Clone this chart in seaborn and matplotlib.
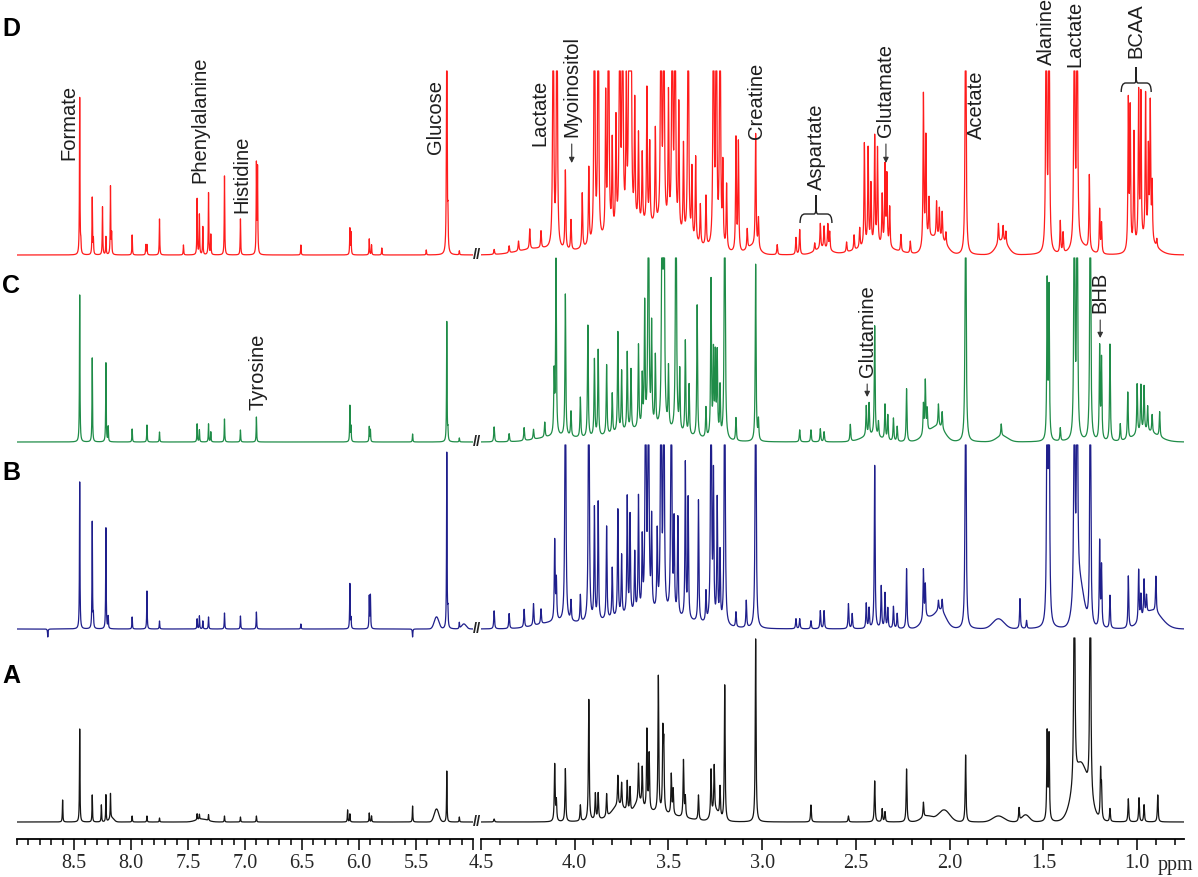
import numpy as np
import matplotlib
matplotlib.use('Agg')
import matplotlib.pyplot as plt
import seaborn as sns
from matplotlib.path import Path
from matplotlib.patches import PathPatch

# 1H NMR spectra, four samples stacked (A bottom ... D top)
# peaks: (ppm, height); broad: (ppm, height, width)
D_PEAKS = [
    (8.45, 157), (8.44, 10), (8.34, 57), (8.33, 15), (8.25, 48), (8.22, 18),
    (8.18, 68), (8.17, 20), (7.99, 20), (7.87, 10), (7.86, 10), (7.75, 36),
    (7.54, 10), (7.42, 56), (7.40, 40), (7.37, 28), (7.32, 62), (7.30, 20),
    (7.18, 79), (7.04, 36), (6.90, 89), (6.89, 85), (6.51, 10), (6.08, 26),
    (6.07, 22), (5.91, 16), (5.89, 10), (5.80, 7), (5.41, 5), (5.23, 400),
    (5.22, 30), (5.12, 4),
    (4.43, 5), (4.35, 7), (4.30, 10), (4.24, 20), (4.18, 17), (4.115, 400),
    (4.095, 400), (4.05, 79), (4.02, 30), (3.96, 55), (3.925, 77), (3.895, 400),
    (3.875, 400), (3.835, 138), (3.82, 400), (3.80, 90), (3.78, 110),
    (3.76, 400), (3.745, 400), (3.725, 150), (3.71, 400), (3.70, 400),
    (3.68, 120), (3.66, 89), (3.64, 70), (3.615, 135), (3.60, 80), (3.57, 95),
    (3.54, 400), (3.525, 400), (3.50, 130), (3.48, 400), (3.465, 400),
    (3.445, 126), (3.42, 90), (3.395, 400), (3.375, 70), (3.355, 85),
    (3.33, 40), (3.30, 50), (3.26, 400), (3.245, 400), (3.225, 400),
    (3.21, 80), (3.19, 65), (3.14, 113), (3.127, 109), (3.08, 20),
    (3.035, 113), (3.02, 30), (2.92, 10), (2.82, 17), (2.80, 25), (2.72, 8),
    (2.69, 25), (2.67, 22), (2.65, 25), (2.64, 18), (2.55, 10), (2.51, 15),
    (2.48, 20), (2.455, 103), (2.435, 97), (2.42, 60), (2.40, 108),
    (2.385, 96), (2.36, 50), (2.345, 79), (2.335, 70), (2.32, 40), (2.26, 17),
    (2.21, 12), (2.14, 152), (2.127, 105), (2.11, 40), (2.07, 36),
    (2.055, 30), (2.04, 28), (2.02, 12), (1.915, 400), (1.74, 20),
    (1.715, 15), (1.70, 12), (1.485, 400), (1.47, 400), (1.41, 32),
    (1.395, 20), (1.335, 400), (1.32, 400), (1.255, 75), (1.20, 44),
    (1.19, 30), (1.047, 148), (1.037, 138), (1.017, 114), (0.992, 150),
    (0.98, 146), (0.955, 145), (0.94, 88), (0.93, 135), (0.92, 56),
    (0.895, 8),
]
D_BROAD = [
    (3.62, 28, 0.18), (4.20, 6, 0.10), (2.40, 8, 0.10), (2.10, 15, 0.03),
    (2.04, 12, 0.03), (1.72, 14, 0.03), (1.30, 8, 0.04), (0.95, 12, 0.05),
    (2.68, 6, 0.04), (3.05, 8, 0.03),
]

C_PEAKS = [
    (8.45, 147), (8.34, 84), (8.22, 79), (8.20, 15), (7.99, 13), (7.86, 17),
    (7.75, 10), (7.42, 18), (7.40, 12), (7.32, 18), (7.30, 10), (7.18, 23),
    (7.04, 12), (6.90, 25), (6.08, 36), (6.07, 15), (5.91, 15), (5.90, 12),
    (5.53, 8), (5.23, 120), (5.22, 10), (5.12, 4),
    (4.43, 15), (4.35, 8), (4.27, 13), (4.22, 10), (4.16, 15), (4.11, 60),
    (4.10, 177), (4.05, 142), (4.02, 25), (3.97, 40), (3.93, 112),
    (3.895, 77), (3.875, 86), (3.83, 70), (3.80, 40), (3.77, 100),
    (3.75, 60), (3.72, 78), (3.70, 60), (3.66, 83), (3.64, 50), (3.627, 122),
    (3.607, 400), (3.59, 100), (3.57, 70), (3.534, 400), (3.524, 400),
    (3.50, 60), (3.46, 400), (3.44, 60), (3.41, 93), (3.39, 50),
    (3.347, 132), (3.30, 30), (3.273, 157), (3.26, 83), (3.25, 80),
    (3.24, 83), (3.225, 50), (3.20, 400), (3.14, 23), (3.035, 177),
    (3.02, 20), (2.80, 12), (2.74, 12), (2.69, 13), (2.67, 10), (2.53, 17),
    (2.445, 30), (2.43, 32), (2.40, 110), (2.38, 15), (2.345, 35),
    (2.33, 25), (2.30, 23), (2.28, 15), (2.23, 53), (2.14, 30), (2.13, 52),
    (2.12, 22), (2.06, 22), (2.04, 17), (1.915, 400), (1.725, 12),
    (1.48, 157), (1.47, 150), (1.41, 13), (1.335, 400), (1.32, 400),
    (1.25, 400), (1.20, 92), (1.19, 80), (1.145, 97), (1.09, 17),
    (1.05, 47), (1.00, 50), (0.98, 47), (0.963, 45), (0.944, 25),
    (0.92, 18), (0.88, 25),
]
C_BROAD = [
    (3.62, 12, 0.18), (2.10, 10, 0.04), (2.05, 10, 0.03), (1.72, 6, 0.03),
    (2.42, 6, 0.05), (0.95, 10, 0.06), (4.10, 5, 0.10),
]

B_PEAKS = [
    (8.73, -8), (8.45, 147), (8.34, 107), (8.33, 12), (8.22, 101), (8.20, 12),
    (7.99, 12), (7.86, 38), (7.75, 8), (7.42, 10), (7.40, 13), (7.37, 8),
    (7.32, 12), (7.18, 16), (7.04, 13), (6.90, 17), (6.51, 5), (6.08, 45),
    (6.07, 10), (5.91, 32), (5.90, 33), (5.53, -8), (5.23, 176), (5.22, 15),
    (5.12, 6),
    (4.43, 18), (4.35, 15), (4.27, 18), (4.22, 22), (4.18, 15), (4.107, 80),
    (4.098, 40), (4.05, 400), (4.02, 20), (3.97, 27), (3.925, 400),
    (3.895, 112), (3.875, 118), (3.83, 93), (3.80, 50), (3.77, 107),
    (3.75, 60), (3.72, 117), (3.705, 98), (3.68, 60), (3.66, 115),
    (3.64, 70), (3.622, 400), (3.607, 400), (3.59, 90), (3.56, 78),
    (3.54, 400), (3.525, 400), (3.485, 400), (3.47, 90), (3.45, 98),
    (3.41, 155), (3.395, 120), (3.34, 122), (3.30, 30), (3.273, 400),
    (3.26, 143), (3.24, 123), (3.225, 70), (3.20, 400), (3.14, 15),
    (3.085, 27), (3.035, 400), (2.82, 10), (2.80, 10), (2.74, 8), (2.69, 18),
    (2.67, 18), (2.54, 25), (2.52, 15), (2.445, 25), (2.43, 20), (2.40, 163),
    (2.365, 42), (2.345, 35), (2.33, 20), (2.30, 22), (2.28, 15), (2.23, 60),
    (2.14, 50), (2.13, 33), (2.06, 10), (2.04, 12), (1.915, 400),
    (1.625, 30), (1.59, 8), (1.48, 400), (1.47, 400), (1.335, 400),
    (1.32, 400), (1.25, 400), (1.20, 85), (1.19, 60), (1.145, 33),
    (1.047, 52), (0.992, 52), (0.98, 24), (0.963, 36), (0.95, 18), (0.90, 36),
]
B_BROAD = [
    (5.32, 12, 0.02), (5.08, 5, 0.02), (3.62, 14, 0.20), (2.05, 18, 0.03),
    (2.12, 10, 0.03), (1.74, 10, 0.03), (1.31, 45, 0.025), (0.92, 18, 0.05),
    (4.10, 6, 0.10),
]

A_PEAKS = [
    (8.60, 22), (8.45, 93), (8.34, 27), (8.26, 17), (8.22, 27), (8.18, 25),
    (7.99, 6), (7.86, 6), (7.75, 4), (7.42, 6), (7.40, 5), (7.32, 6),
    (7.18, 6), (7.04, 5), (6.90, 6), (6.10, 12), (6.08, 8), (5.91, 9),
    (5.89, 6), (5.53, 16), (5.23, 51), (5.12, 5),
    (4.43, 3), (4.107, 57), (4.098, 20), (4.05, 53), (3.97, 16), (3.925, 121),
    (3.89, 26), (3.875, 26), (3.83, 23), (3.77, 30), (3.75, 24), (3.72, 30),
    (3.705, 24), (3.66, 38), (3.64, 38), (3.615, 80), (3.603, 56),
    (3.554, 136), (3.53, 76), (3.525, 63), (3.485, 40), (3.475, 25),
    (3.42, 57), (3.41, 20), (3.34, 25), (3.273, 46), (3.256, 46),
    (3.225, 30), (3.20, 136), (3.035, 183), (2.74, 17), (2.54, 6),
    (2.40, 41), (2.36, 13), (2.345, 10), (2.23, 53), (2.14, 15), (1.915, 67),
    (1.63, 13), (1.48, 88), (1.47, 85), (1.335, 400), (1.25, 400),
    (1.195, 47), (1.19, 30), (1.145, 13), (1.047, 23), (0.99, 24),
    (0.963, 17), (0.89, 27),
]
A_BROAD = [
    (5.32, 13, 0.02), (8.17, 4, 0.02), (7.38, 3, 0.05), (3.62, 10, 0.15),
    (3.77, 10, 0.03), (3.66, 10, 0.02), (3.25, 10, 0.02), (2.12, 6, 0.03),
    (2.03, 12, 0.03), (1.74, 6, 0.03), (1.595, 7, 0.02), (1.30, 57, 0.04),
]

TRACES = [
    ('A', A_PEAKS, A_BROAD, '#151515'),
    ('B', B_PEAKS, B_BROAD, '#1f1f8c'),
    ('C', C_PEAKS, C_BROAD, '#1f8c48'),
    ('D', D_PEAKS, D_BROAD, '#ff1c1c'),
]

LEFT_TICKS = [8.5, 8.0, 7.5, 7.0, 6.5, 6.0, 5.5, 5.0]
LEFT_LABELS = ['8.5', '8.0', '7.5', '7.0', '6.5', '6.0', '5.5', '']
RIGHT_TICKS = [4.5, 4.0, 3.5, 3.0, 2.5, 2.0, 1.5, 1.0]
RIGHT_LABELS = ['4.5', '4.0', '3.5', '3.0', '2.5', '2.0', '1.5', '1.0']

# layout (y axis in pixels above the ppm axis)
OFFSETS = {'A': 17, 'B': 210, 'C': 397, 'D': 584}
LETTER_Y = {'A': 676, 'B': 473, 'C': 286, 'D': 29}
CLIP = 184
HWHM = 0.0025


def spectrum(ppm, peaks, broad):
    y = np.zeros_like(ppm)
    for p, h in peaks:
        y += h * HWHM ** 2 / ((ppm - p) ** 2 + HWHM ** 2)
    for p, h, w in broad:
        y += h * np.exp(-0.5 * ((ppm - p) / w) ** 2)
    return np.minimum(y, CLIP)


def draw_brace(ax, xc, half, y_tip, y_arm, y_end):
    r = half * 0.3
    verts, codes = [], []
    for s in (-1, 1):
        verts += [(xc + s * half, y_end), (xc + s * half, y_arm),
                  (xc + s * (half - r), y_arm), (xc + s * r * 0.4, y_arm),
                  (xc, y_arm), (xc, y_arm + (y_tip - y_arm) * 0.35), (xc, y_tip)]
        codes += [Path.MOVETO, Path.CURVE3, Path.CURVE3, Path.LINETO,
                  Path.CURVE3, Path.CURVE3, Path.LINETO]
    ax.add_patch(PathPatch(Path(verts, codes), fill=False, lw=1.0,
                           color='#222222', clip_on=False))


sns.set_theme(style='white')
plt.rcParams['font.family'] = ['Liberation Sans', 'DejaVu Sans']

W, H = 1198, 877
AXIS_Y = 839
fig = plt.figure(figsize=(W / 100, H / 100), dpi=100)
ax_l = fig.add_axes([17 / W, (H - AXIS_Y) / H, 456 / W, AXIS_Y / H])
ax_r = fig.add_axes([481 / W, (H - AXIS_Y) / H, 703 / W, AXIS_Y / H])

ppm_l = np.linspace(9.0, 5.0, 8001)
ppm_r = np.linspace(4.5, 0.75, 7501)

for name, peaks, broad, color in TRACES:
    base = OFFSETS[name]
    for ax, ppm in ((ax_l, ppm_l), (ax_r, ppm_r)):
        sns.lineplot(x=ppm, y=spectrum(ppm, peaks, broad) + base, ax=ax,
                     color=color, linewidth=0.9, estimator=None, sort=False)
    # axis-break mark
    ax_l.text(5.0, base, '//', ha='left', va='center', fontsize=10.5,
              fontweight='bold', color='#222222', clip_on=False)
    fig.text(11 / W, 1 - LETTER_Y[name] / H, name, ha='center', va='center',
             fontsize=18, fontweight='bold', color='black')

for ax, lim, ticks, labels in ((ax_l, (9.0, 5.0), LEFT_TICKS, LEFT_LABELS),
                               (ax_r, (4.5, 0.75), RIGHT_TICKS, RIGHT_LABELS)):
    ax.set_xlim(*lim)
    ax.set_ylim(0, AXIS_Y)
    ax.set_yticks([])
    ax.set_xlabel('')
    ax.set_ylabel('')
    ax.set_xticks(ticks, labels, fontfamily='Liberation Serif', fontsize=14.5)
    ax.xaxis.set_minor_locator(plt.MultipleLocator(0.1))
    ax.tick_params(axis='x', which='major', length=8, width=1.1,
                   direction='out', pad=3, color='black', bottom=True)
    ax.tick_params(axis='x', which='minor', length=4.5, width=1.1,
                   direction='out', color='black', bottom=True)
    for side in ('top', 'left', 'right'):
        ax.spines[side].set_visible(False)
    ax.spines['bottom'].set_linewidth(1.3)
    ax.spines['bottom'].set_color('black')
    ax.patch.set_alpha(0)

ax_r.text(0.793, -31, 'ppm', ha='center', va='baseline',
          fontfamily='Liberation Serif', fontsize=14.5, clip_on=False)

# metabolite labels: (text, ppm, bottom of text)
LABELS_LEFT = [('Formate', 8.545, 679), ('Phenylalanine', 7.399, 656),
               ('Histidine', 7.026, 626), ('Glucose', 5.333, 685),
               ('Tyrosine', 6.886, 429)]
LABELS_RIGHT = [('Lactate', 4.186, 693), ('Creatine', 3.03, 700),
                ('Aspartate', 2.713, 649), ('Acetate', 1.856, 700),
                ('Alanine', 1.484, 774), ('Lactate', 1.33, 772),
                ('BCAA', 1.005, 781)]
ARROW_LABELS = [('Myoinositol', 4.016, 702, 676), ('Glutamate', 2.34, 702, 676),
                ('Glutamine', 2.44, 462, 442), ('BHB', 1.197, 526, 501)]

for ax, items in ((ax_l, LABELS_LEFT), (ax_r, LABELS_RIGHT)):
    for txt, x, y in items:
        ax.text(x, y, txt, rotation=90, ha='center', va='bottom',
                fontsize=14.5, color='#1e1e1e', clip_on=False)

for txt, x, y, tip in ARROW_LABELS:
    ax_r.text(x, y, txt, rotation=90, ha='center', va='bottom',
              fontsize=14.5, color='#1e1e1e', clip_on=False)
    ax_r.annotate('', xy=(x, tip), xytext=(x, y - 7),
                  arrowprops=dict(arrowstyle='-|>', lw=0.8, color='#333333',
                                  mutation_scale=8, shrinkA=0, shrinkB=0))

draw_brace(ax_r, 2.713, 0.085, 644, 625, 616)
draw_brace(ax_r, 1.005, 0.08, 772, 756, 747)

fig.savefig('out.png', dpi=100)
